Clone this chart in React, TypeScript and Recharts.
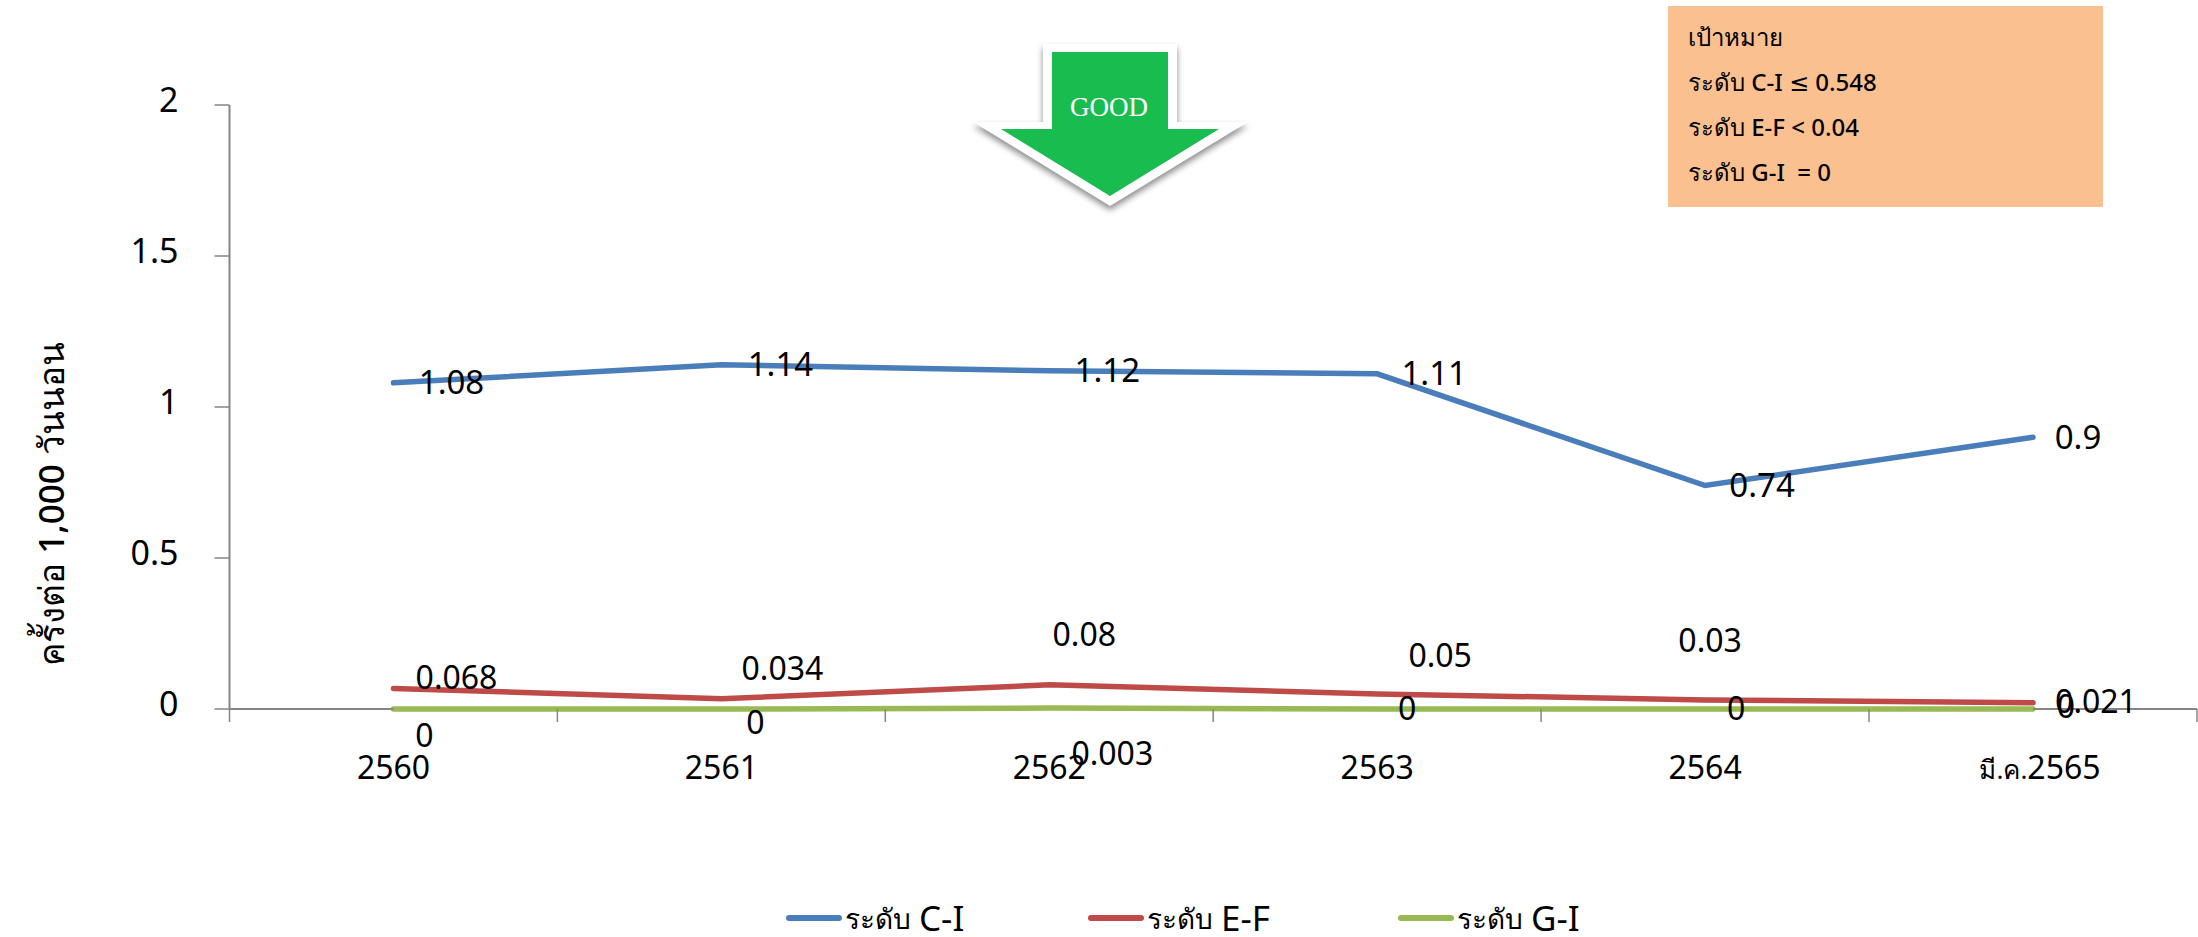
import React from "react";
import { LineChart, Line, XAxis, YAxis, Legend, LabelList } from "recharts";

const categories = ["2560", "2561", "2562", "2563", "2564", "มี.ค.2565"];
const levelCI = [1.08, 1.14, 1.12, 1.11, 0.74, 0.9];
const levelEF = [0.068, 0.034, 0.08, 0.05, 0.03, 0.021];
const levelGI = [0, 0, 0.003, 0, 0, 0];
const yTicks = [0, 0.5, 1, 1.5, 2];
const targetLines = ["เป้าหมาย", "ระดับ C-I ≤ 0.548", "ระดับ E-F < 0.04", "ระดับ G-I  = 0"];
const yTitle = "ครั้งต่อ 1,000 วันนอน";

const rows = categories.map((name, i) => ({
  name,
  ci: levelCI[i],
  ef: levelEF[i],
  gi: levelGI[i],
}));

// Data labels sit away from their points in the original layout, so each series has its own nudges.
const ciNudge = [[58, -1], [59, -1], [58, -1], [57, -1], [57, 0], [45, 0]];
const efNudge = [[63, -11], [61, -30], [35, -50], [63, -38], [5, -59], [63, -1]];
const giNudge = [[31, 26], [34, 13], [63, 45], [30, -1], [31, -1], [33, -3]];

const FONT = "'Noto Sans', 'DejaVu Sans', sans-serif";
const AXIS_COLOR = "#868686";
const HALF_BAND = 164;
// Recharts places a tick's y at axis + tick size (6) + tick margin.
const X_TICK_OFFSET = 14;

const nudgedLabel = (nudge: number[][], size: number) => (props: any) => {
  const { x, y, value, index } = props;
  const [dx, dy] = nudge[index];
  return (
    <text x={x + dx} y={y + dy} dy="0.36em" textAnchor="middle" fontFamily={FONT} fontSize={size} fill="#000">
      {value}
    </text>
  );
};

// Draws the between-category tick marks, the label, and the stretches of baseline outside the series,
// so the zero-valued series stays on top of the axis colour.
const CategoryTick = (props: any) => {
  const { x, y, payload, index } = props;
  const axisY = y - X_TICK_OFFSET;
  const isFirst = index === 0;
  const isLast = index === categories.length - 1;
  const text = String(payload.value);
  const monthPrefix = text.slice(0, Math.max(0, text.length - 4));
  const year = text.slice(-4);
  return (
    <g>
      <line x1={x - HALF_BAND} x2={x - HALF_BAND} y1={axisY} y2={axisY + 13} stroke={AXIS_COLOR} strokeWidth={1.5} />
      {isFirst && <line x1={x - HALF_BAND} x2={x} y1={axisY} y2={axisY} stroke={AXIS_COLOR} strokeWidth={2} />}
      {isLast && (
        <>
          <line x1={x} x2={x + HALF_BAND} y1={axisY} y2={axisY} stroke={AXIS_COLOR} strokeWidth={2} />
          <line x1={x + HALF_BAND} x2={x + HALF_BAND} y1={axisY} y2={axisY + 13} stroke={AXIS_COLOR} strokeWidth={1.5} />
        </>
      )}
      <text
        x={isLast ? x + 7 : x}
        y={axisY + 58}
        dy="0.36em"
        textAnchor="middle"
        fontFamily={FONT}
        fontSize={32}
        fill="#000"
      >
        {monthPrefix && <tspan fontSize={26}>{monthPrefix}</tspan>}
        {year}
      </text>
    </g>
  );
};

const ValueTick = (props: any) => {
  const { x, y, payload } = props;
  return (
    <text x={x} y={y - 5} dy="0.36em" textAnchor="end" fontFamily={FONT} fontSize={34} fill="#000">
      {payload.value}
    </text>
  );
};

const legendLefts = [786, 1088, 1398];

const LegendRow = (props: any) => (
  <div style={{ position: "relative", width: 2198, height: 38 }}>
    {(props.payload ?? []).map((item: any, i: number) => {
      const [thai, code] = String(item.value).split(" ");
      return (
        <div
          key={item.value}
          style={{
            position: "absolute",
            left: legendLefts[i],
            top: 0,
            height: 38,
            lineHeight: "38px",
            display: "flex",
            alignItems: "center",
            whiteSpace: "nowrap",
            fontFamily: FONT,
            color: "#000",
          }}
        >
          <span style={{ width: 56, height: 6, borderRadius: 3, background: item.color, marginRight: 3 }} />
          <span style={{ fontSize: 28 }}>{thai}</span>
          <span style={{ fontSize: 35, marginLeft: 8 }}>{code}</span>
        </div>
      );
    })}
  </div>
);

const ARROW_OUTLINE = "1043,44 1177,44 1177,122 1248,122 1110,206 973,122 1043,122";
const ARROW_FILL = "1052,52 1168,52 1168,129 1219,129 1110,196 1001,129 1052,129";

// Green "GOOD" arrow with its white outline and soft shadow.
const GoodArrow = () => (
  <g>
    <defs>
      <filter id="arrowShadow" x="-20%" y="-20%" width="140%" height="140%">
        <feGaussianBlur stdDeviation="3" />
      </filter>
    </defs>
    <polygon points={ARROW_OUTLINE} fill="#000" fillOpacity={0.45} transform="translate(0 4)" filter="url(#arrowShadow)" />
    <polygon points={ARROW_OUTLINE} fill="#fff" />
    <polygon points={ARROW_FILL} fill="#19BD4F" />
    <text x={1109} y={107} dy="0.34em" textAnchor="middle" fontFamily="'Liberation Serif', serif" fontSize={27} fill="#fff">
      GOOD
    </text>
  </g>
);

const TargetBox = () => (
  <g>
    <rect x={1668} y={6} width={435} height={201} fill="#FAC090" />
    {targetLines.map((line, i) => (
      <text
        key={line}
        x={1688}
        y={37 + i * 45}
        dy="0.36em"
        fontFamily={FONT}
        fontSize={24}
        fontWeight={500}
        fill="#000"
        style={{ whiteSpace: "pre" }}
      >
        {line}
      </text>
    ))}
  </g>
);

const YTitle = () => (
  <text
    transform="translate(51 504) rotate(-90)"
    textAnchor="middle"
    dy="0.36em"
    fontFamily={FONT}
    fontSize={35}
    fontWeight={500}
    fill="#000"
  >
    {yTitle}
  </text>
);

const lineProps = {
  type: "linear" as const,
  strokeWidth: 5.5,
  strokeLinecap: "round" as const,
  dot: false,
  activeDot: false,
  isAnimationActive: false,
};

export default function App() {
  return (
    <div style={{ position: "absolute", left: 0, top: 0, width: 2198, height: 937 }}>
      <LineChart
        width={2198}
        height={937}
        data={rows}
        margin={{ top: 105, right: 1, bottom: 128, left: 0 }}
      >
        <YAxis
          width={229.5}
          domain={[0, 2]}
          ticks={yTicks}
          tickSize={15}
          tickMargin={36}
          tick={<ValueTick />}
          stroke={AXIS_COLOR}
          strokeWidth={2}
          tickLine={{ stroke: AXIS_COLOR, strokeWidth: 1.5 }}
        />
        <XAxis
          dataKey="name"
          height={100}
          interval={0}
          padding={{ left: HALF_BAND, right: HALF_BAND }}
          axisLine={false}
          tickLine={false}
          tickMargin={8}
          tick={<CategoryTick />}
        />
        <Line {...lineProps} name="ระดับ C-I" dataKey="ci" stroke="#4A7EBB">
          <LabelList dataKey="ci" content={nudgedLabel(ciNudge, 33)} />
        </Line>
        <Line {...lineProps} name="ระดับ E-F" dataKey="ef" stroke="#BE4B48">
          <LabelList dataKey="ef" content={nudgedLabel(efNudge, 32)} />
        </Line>
        <Line {...lineProps} name="ระดับ G-I" dataKey="gi" stroke="#98B954">
          <LabelList dataKey="gi" content={nudgedLabel(giNudge, 32)} />
        </Line>
        <Legend
          verticalAlign="middle"
          align="center"
          content={<LegendRow />}
          wrapperStyle={{ left: 0, top: 899, width: 2198, height: 38 }}
        />
        <YTitle />
        <GoodArrow />
        <TargetBox />
      </LineChart>
    </div>
  );
}
